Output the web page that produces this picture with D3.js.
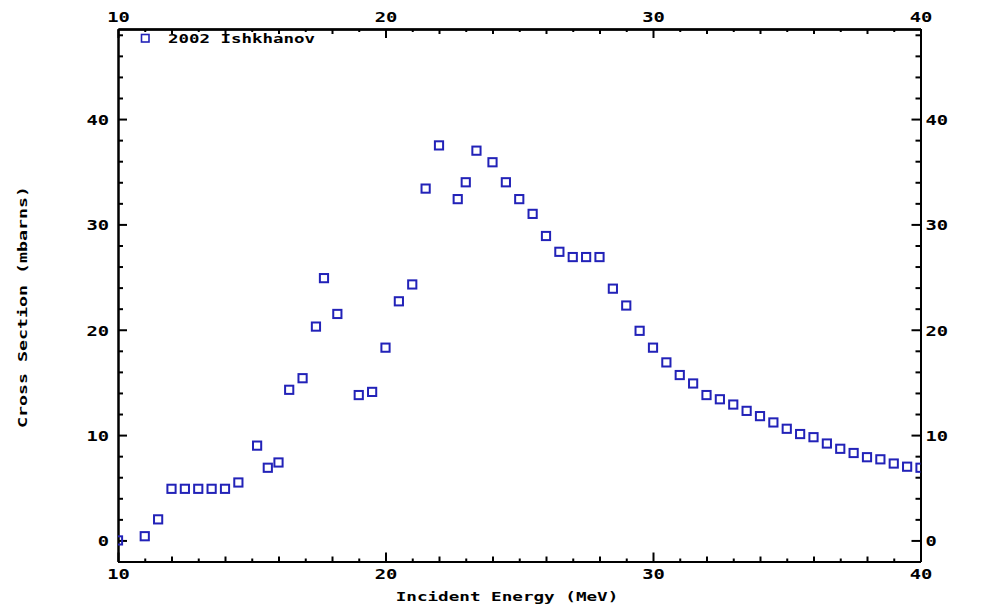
<!DOCTYPE html>
<html>
<head>
<meta charset="utf-8">
<script src="https://cdn.jsdelivr.net/npm/d3@7"></script>
<style>
  body { margin: 0; background: #fff; }
  svg { display: block; }
</style>
</head>
<body>
<div id="chart"></div>
<script>
// data
var energy = [10.0, 11.0, 11.5, 12.0, 12.5, 13.0, 13.5, 14.0, 14.5, 15.2, 15.6, 16.0,
    16.4, 16.9, 17.4, 17.7, 18.2, 19.0, 19.5, 20.0, 20.5, 21.0, 21.5, 22.0,
    22.7, 23.0, 23.4, 24.0, 24.5, 25.0, 25.5, 26.0, 26.5, 27.0, 27.5, 28.0,
    28.5, 29.0, 29.5, 30.0, 30.5, 31.0, 31.5, 32.0, 32.5, 33.0, 33.5, 34.0,
    34.5, 35.0, 35.5, 36.0, 36.5, 37.0, 37.5, 38.0, 38.5, 39.0, 39.5, 40.0];
var crossSection = [0.0, 0.4, 2.0, 4.9, 4.9, 4.9, 4.9, 4.9, 5.5, 9.0, 6.9, 7.4,
    14.3, 15.4, 20.3, 24.9, 21.5, 13.8, 14.1, 18.3, 22.7, 24.3, 33.4, 37.5,
    32.4, 34.0, 37.0, 35.9, 34.0, 32.4, 31.0, 28.9, 27.4, 26.9, 26.9, 26.9,
    23.9, 22.3, 19.9, 18.3, 16.9, 15.7, 14.9, 13.8, 13.4, 12.9, 12.3, 11.8,
    11.2, 10.6, 10.1, 9.8, 9.2, 8.7, 8.3, 7.9, 7.7, 7.3, 7.0, 6.9];
var xMajor = [10, 20, 30, 40];
var yMajor = [0, 10, 20, 30, 40];
var seriesName = "2002 Ishkhanov";
var xTitle = "Incident Energy (MeV)";
var yTitle = "Cross Section (mbarns)";

var W = 997, H = 609;
var margin = { top: 29, right: 76.5, bottom: 47.5, left: 118 };
var blue = "#2222b8";
var font = "'DejaVu Sans Mono', monospace";

var points = energy.map(function (e, i) { return { e: e, s: crossSection[i] }; });

var x = d3.scaleLinear().domain([10, 40]).range([margin.left, W - margin.right]);
var y = d3.scaleLinear().domain([-2, 48.55]).range([H - margin.bottom, margin.top]);

var svg = d3.select("#chart").append("svg")
    .attr("width", W)
    .attr("height", H);

// stretch the text to look like the wide bitmap font
function styleText(sel, size, perChar) {
    sel.attr("font-family", font)
        .attr("font-size", size)
        .attr("font-weight", "bold")
        .attr("fill", "#000")
        .attr("textLength", function () { return this.textContent.length * perChar; })
        .attr("lengthAdjust", "spacingAndGlyphs");
}

function styleAxis(g) {
    g.select(".domain").attr("stroke", "#000").attr("stroke-width", 2);
    g.selectAll(".tick line").attr("stroke", "#000").attr("stroke-width", 2);
}

var xOne = d3.range(10, 41, 1);
var xTwo = xOne.filter(function (v) { return v % 2 === 0 && v % 10 !== 0; });
var xOdd = xOne.filter(function (v) { return v % 2 !== 0; });
var yMinor = d3.range(-2, 49, 2).filter(function (v) { return v % 10 !== 0; });

var bottomY = H - margin.bottom, topY = margin.top;
var leftX = margin.left, rightX = W - margin.right;

// bottom axis
[[xOdd, 3], [xTwo, 5]].forEach(function (d) {
    svg.append("g")
        .attr("transform", "translate(0," + bottomY + ")")
        .call(d3.axisBottom(x).tickValues(d[0]).tickSizeInner(-d[1]).tickSizeOuter(0).tickFormat(""))
        .call(styleAxis);
});
var gb = svg.append("g")
    .attr("transform", "translate(0," + bottomY + ")")
    .call(d3.axisBottom(x).tickValues(xMajor).tickSizeInner(-9).tickSizeOuter(0).tickPadding(7.5).tickFormat(d3.format("d")))
    .call(styleAxis);
gb.selectAll("text").call(styleText, 14, 11.3);

// top axis
[[xOdd, 3], [xTwo, 5]].forEach(function (d) {
    svg.append("g")
        .attr("transform", "translate(0," + topY + ")")
        .call(d3.axisTop(x).tickValues(d[0]).tickSizeInner(-d[1]).tickSizeOuter(0).tickFormat(""))
        .call(styleAxis);
});
var gt = svg.append("g")
    .attr("transform", "translate(0," + topY + ")")
    .call(d3.axisTop(x).tickValues(xMajor).tickSizeInner(-9).tickSizeOuter(0).tickPadding(7).tickFormat(d3.format("d")))
    .call(styleAxis);
gt.selectAll("text").call(styleText, 14, 11.3);

// left axis
svg.append("g")
    .attr("transform", "translate(" + leftX + ",0)")
    .call(d3.axisLeft(y).tickValues(yMinor).tickSizeInner(-5).tickSizeOuter(0).tickFormat(""))
    .call(styleAxis);
var gl = svg.append("g")
    .attr("transform", "translate(" + leftX + ",0)")
    .call(d3.axisLeft(y).tickValues(yMajor).tickSizeInner(-9).tickSizeOuter(0).tickPadding(9).tickFormat(d3.format("d")))
    .call(styleAxis);
gl.selectAll("text").attr("dy", "0.38em").call(styleText, 14, 11.3);

// right axis
svg.append("g")
    .attr("transform", "translate(" + rightX + ",0)")
    .call(d3.axisRight(y).tickValues(yMinor).tickSizeInner(-5).tickSizeOuter(0).tickFormat(""))
    .call(styleAxis);
var gr = svg.append("g")
    .attr("transform", "translate(" + rightX + ",0)")
    .call(d3.axisRight(y).tickValues(yMajor).tickSizeInner(-9).tickSizeOuter(0).tickPadding(5).tickFormat(d3.format("d")))
    .call(styleAxis);
gr.selectAll("text").attr("dy", "0.38em").call(styleText, 14, 11.3);

// axis titles
svg.append("text")
    .attr("x", 507)
    .attr("y", 601)
    .attr("text-anchor", "middle")
    .text(xTitle)
    .call(styleText, 12, 10.6);

svg.append("text")
    .attr("transform", "translate(27,307) rotate(-90)")
    .attr("text-anchor", "middle")
    .text(yTitle)
    .call(styleText, 12, 11);

// data markers
svg.append("clipPath")
    .attr("id", "plot-clip")
    .append("rect")
    .attr("x", leftX)
    .attr("y", topY)
    .attr("width", rightX - leftX)
    .attr("height", bottomY - topY);

var ms = 8.2;
svg.append("g")
    .attr("clip-path", "url(#plot-clip)")
    .selectAll("rect")
    .data(points)
    .enter().append("rect")
    .attr("x", function (d) { return x(d.e) - ms / 2; })
    .attr("y", function (d) { return y(d.s) - ms / 2; })
    .attr("width", ms)
    .attr("height", ms)
    .attr("fill", "none")
    .attr("stroke", blue)
    .attr("stroke-width", 2);

// legend
svg.append("rect")
    .attr("x", 141.5)
    .attr("y", 34.5)
    .attr("width", 7.5)
    .attr("height", 7.5)
    .attr("fill", "none")
    .attr("stroke", blue)
    .attr("stroke-width", 1.6);
svg.append("text")
    .attr("x", 168)
    .attr("y", 42.5)
    .text(seriesName)
    .call(styleText, 12, 10.5);
</script>
</body>
</html>
